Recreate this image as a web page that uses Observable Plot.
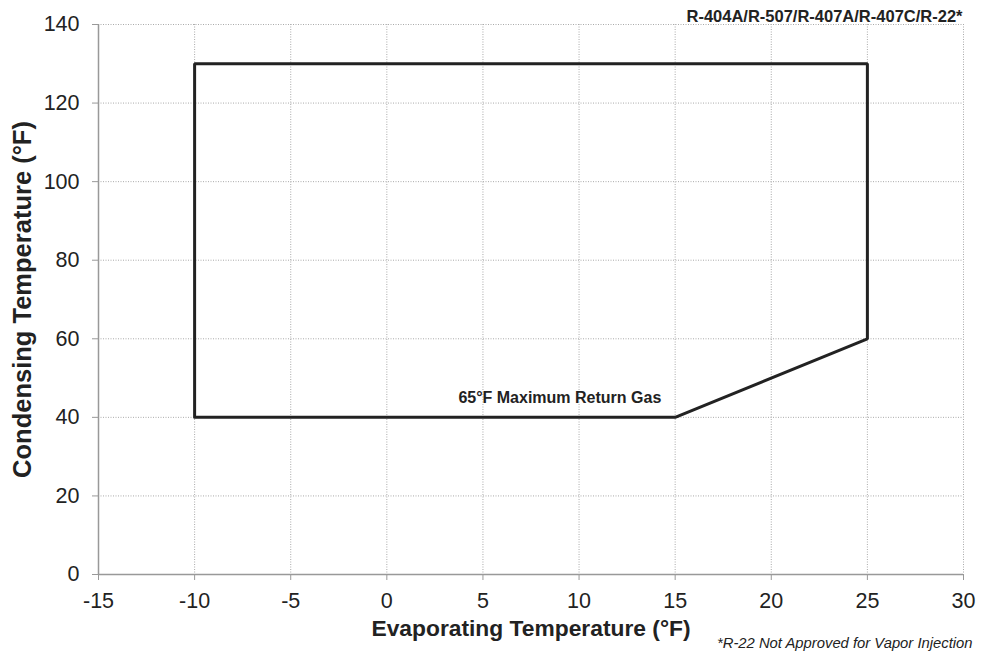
<!DOCTYPE html>
<html>
<head>
<meta charset="utf-8">
<script src="https://cdn.jsdelivr.net/npm/d3@7"></script>
<script src="https://cdn.jsdelivr.net/npm/@observablehq/plot@0.6"></script>
<style>
  body { margin: 0; background: #fff; }
  #chart svg { font-family: "Liberation Sans", Arial, sans-serif; }
</style>
</head>
<body>
<div id="chart"></div>
<script>
// Operating envelope (evaporating °F, condensing °F)
const envelopeEvap = [-10, -10, 25, 25, 15, -10];
const envelopeCond = [40, 130, 130, 60, 40, 40];

const xTicks = [-15, -10, -5, 0, 5, 10, 15, 20, 25, 30];
const yTicks = [0, 20, 40, 60, 80, 100, 120, 140];

const refrigerantLabel = "R-404A/R-507/R-407A/R-407C/R-22*";
const returnGasLabel = "65°F Maximum Return Gas";
const returnGasPos = {x: 9, y: 40};
const footnote = "*R-22 Not Approved for Vapor Injection";
const xTitle = "Evaporating Temperature (°F)";
const yTitle = "Condensing Temperature (°F)";

const envelope = envelopeEvap.map((x, i) => ({x, y: envelopeCond[i]}));
const fmt = d => String(d);

const chart = Plot.plot({
  width: 984,
  height: 656,
  marginLeft: 98,
  marginRight: 21,
  marginTop: 24,
  marginBottom: 82,
  style: {fontFamily: "Liberation Sans, Arial, sans-serif", background: "#fff"},
  x: {domain: [-15, 30]},
  y: {domain: [0, 140]},
  marks: [
    Plot.gridX(xTicks, {stroke: "#aaa", strokeOpacity: 1, strokeDasharray: "1,1.5", strokeWidth: 1}),
    Plot.gridY(yTicks, {stroke: "#aaa", strokeOpacity: 1, strokeDasharray: "1,1.5", strokeWidth: 1}),
    Plot.ruleX([-15], {stroke: "#999", strokeWidth: 1.5}),
    Plot.ruleY([0], {stroke: "#999", strokeWidth: 1.5}),
    Plot.axisX(xTicks, {tickSize: 6, tickPadding: 12, fontSize: 21.5, fill: "#222", stroke: "#999", label: null, tickFormat: fmt}),
    Plot.axisY(yTicks, {tickSize: 6, tickPadding: 13, fontSize: 21.5, fill: "#222", stroke: "#999", label: null, tickFormat: fmt}),
    Plot.line(envelope, {x: "x", y: "y", stroke: "#222", strokeWidth: 3, strokeLinejoin: "miter"}),
    Plot.text([returnGasLabel], {x: returnGasPos.x, y: returnGasPos.y, text: d => d, dy: -19, fontSize: 16, fontWeight: "bold", fill: "#222"}),
    Plot.text([refrigerantLabel], {x: 30, y: 140, text: d => d, textAnchor: "end", dy: -8, dx: -1, fontSize: 16.5, fontWeight: "bold", fill: "#222"}),
    Plot.text([xTitle], {frameAnchor: "bottom", text: d => d, dy: 61, fontSize: 22.8, fontWeight: "bold", fill: "#222"}),
    Plot.text([yTitle], {frameAnchor: "left", text: d => d, textAnchor: "middle", dx: -76, rotate: -90, fontSize: 25.5, fontWeight: "bold", fill: "#222"}),
    Plot.text([footnote], {frameAnchor: "bottom-right", text: d => d, textAnchor: "end", dx: 9, dy: 73, fontSize: 14.8, fontStyle: "italic", fill: "#222"})
  ]
});
document.getElementById("chart").appendChild(chart);
</script>
</body>
</html>
